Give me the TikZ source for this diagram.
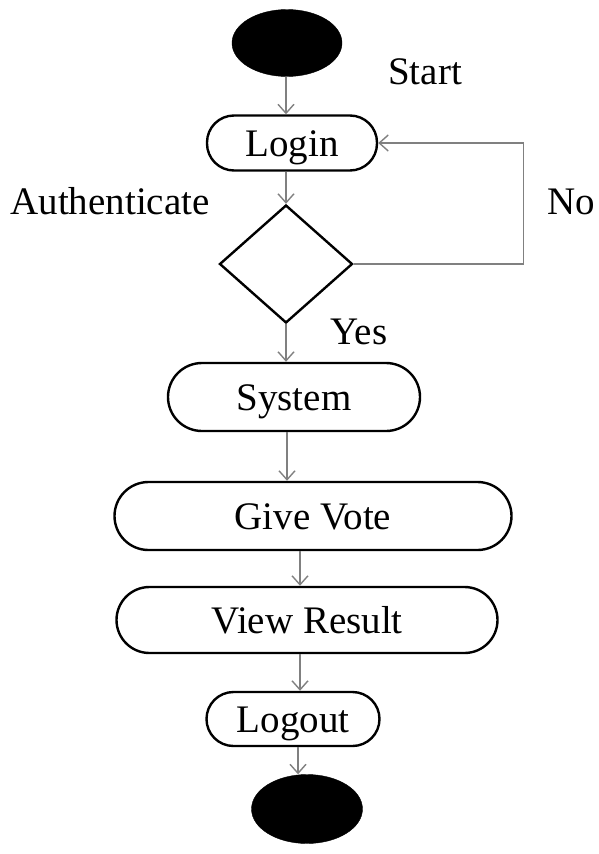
\documentclass[tikz,border=0pt]{standalone}
\usepackage{fontspec}
\setmainfont{Liberation Serif}
\usetikzlibrary{shapes.geometric,arrows.meta}

\begin{document}
\begin{tikzpicture}[x=1pt,y=-1pt,
  txt/.style={font=\fontsize{39}{44}\selectfont, text height=26pt, text depth=0pt, inner sep=0pt},
  act/.style={txt, draw=black, line width=2.4pt, rectangle, rounded corners=#1, align=center},
  act/.default=27pt,
  blob/.style={ellipse, fill=black, draw=black, inner sep=0pt},
  decide/.style={diamond, draw=black, line width=2.4pt, inner sep=0pt,
    minimum width=133pt, minimum height=118pt},
  flow/.style={draw=black!50, line width=1.4pt,
    -{Straight Barb[length=9pt,width=16pt,line width=1.4pt]}}
]
\useasboundingbox (0,0) rectangle (598,854);

% activity nodes
\node[blob, minimum width=110pt, minimum height=67pt] (start) at (287,43) {};
\node[act, minimum width=170pt, minimum height=55pt] (login) at (292,143) {Login};
\node[decide] (dec) at (286,264) {};
\node[act=34pt, minimum width=252pt, minimum height=68pt] (sys) at (294,397) {System};
\node[act=34pt, minimum width=397pt, minimum height=68pt] (vote) at (313,516) {Give Vote};
\node[act=33pt, minimum width=381pt, minimum height=66pt] (view) at (307,620) {View Result};
\node[act, minimum width=173pt, minimum height=54pt] (logout) at (293,719) {Logout};
\node[blob, minimum width=111pt, minimum height=69pt] (end) at (307,809) {};

% labels
\node[txt] (lstart) at (425,71) {Start};
\node[txt] (lauth) at (110,201) {Authenticate};
\node[txt] (lno) at (571,201) {No};
\node[txt] (lyes) at (359,331) {Yes};

% control flow
\draw[flow] (start.south -| dec) -- (login.north -| dec);
\draw[flow] (login.south -| dec) -- (dec.north);
\draw[flow] (dec.south) -- (sys.north -| dec);
\draw[flow] ([xshift=-7pt]sys.south) -- ([xshift=-7pt]sys.south |- vote.north);
\draw[flow] ([xshift=-13pt]vote.south) -- ([xshift=-13pt]vote.south |- view.north);
\draw[flow] ([xshift=-7pt]view.south) -- ([xshift=-7pt]view.south |- logout.north);
\draw[flow] ([xshift=5pt]logout.south) -- ([xshift=5pt]logout.south |- end.north);
\draw[flow] (dec.east) -- ++(170,0) |- (login.east);
\end{tikzpicture}
\end{document}
